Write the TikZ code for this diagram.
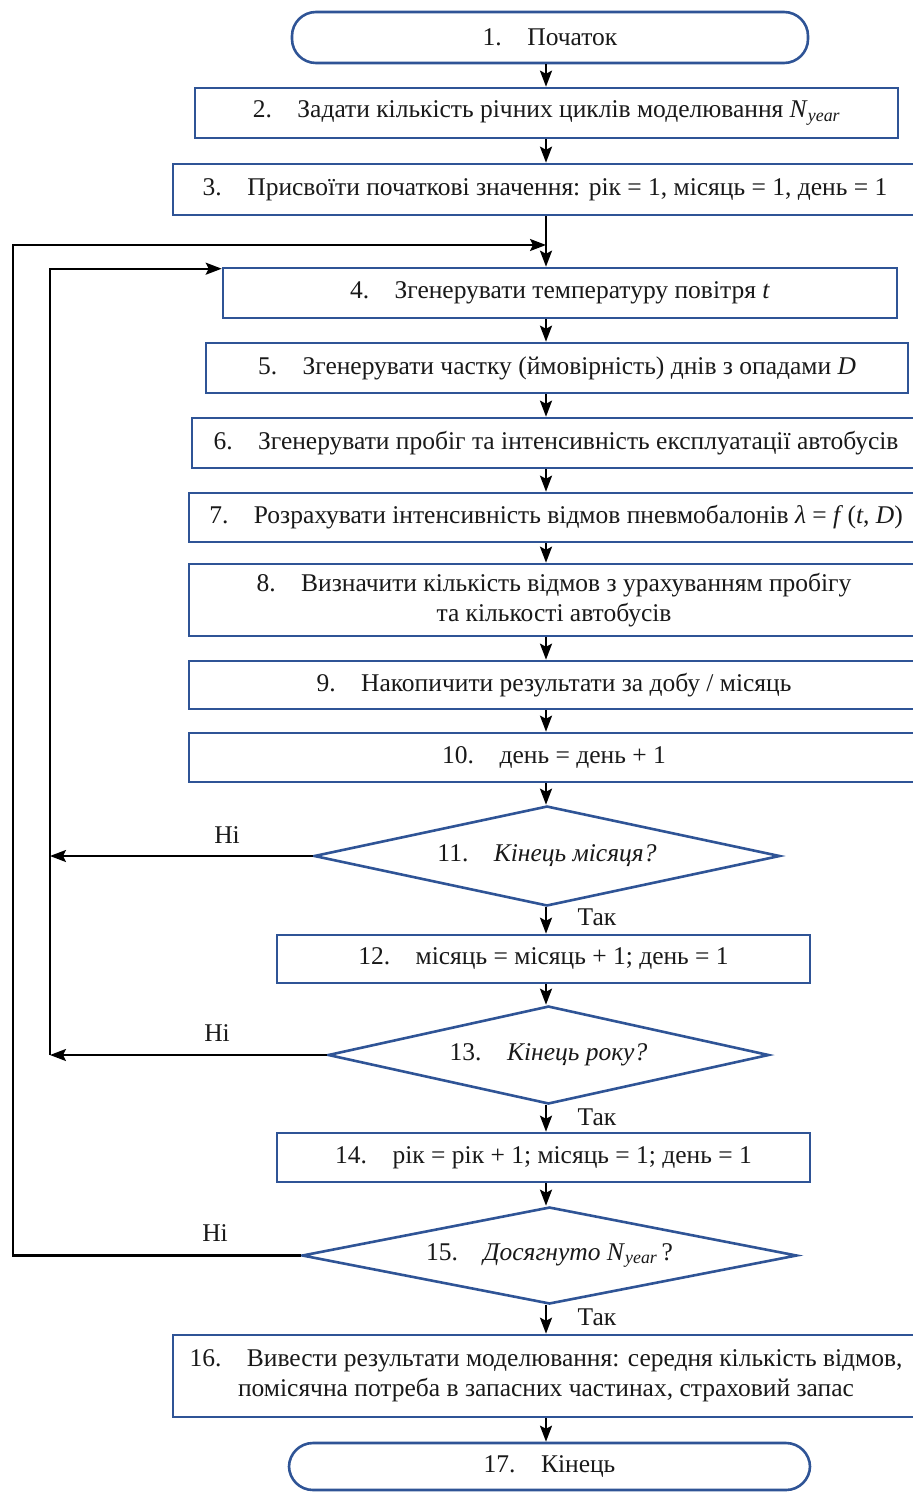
\documentclass[tikz,border=0pt]{standalone}
\usepackage{fontspec}
\setmainfont{Liberation Serif}
\usetikzlibrary{shapes.geometric,arrows.meta,calc}
\definecolor{bordblue}{RGB}{47,84,150}
\definecolor{txt}{RGB}{25,25,25}
\newcommand{\nm}[1]{#1\hspace{1.0em}}
\newcommand{\Ny}{\textit{N}\textsubscript{\textit{year}}}
\begin{document}
\begin{tikzpicture}[x=1pt,y=-1pt,
  every node/.style={text=txt,font=\fontsize{25.5}{30.5}\selectfont},
  box/.style={draw=bordblue,line width=2.6pt,rectangle,inner sep=0pt,align=center},
  term/.style={draw=bordblue,line width=2.6pt,rectangle,rounded corners=24pt,inner sep=0pt},
  dec/.style={draw=bordblue,line width=2.6pt,diamond,inner sep=0pt},
  arr/.style={draw=black,line width=2.1pt,-{Stealth[length=16pt,width=12pt,inset=3pt]}},
  lab/.style={inner sep=0pt}]
\useasboundingbox[fill=white] (0,0) rectangle (912,1495);
\coordinate (X) at (546,0);

\node[term,minimum width=516,minimum height=51] (t1) at (550,37.5) {\nm{1.}Початок};
\node[box,minimum width=703,minimum height=50] (b2) at (546.5,113) {\nm{2.}Задати кількість річних циклів моделювання \Ny};
\node[box,minimum width=744,minimum height=51] (b3) at (545,189.5) {\nm{3.}Присвоїти початкові значення: рік = 1, місяць = 1, день = 1};
\node[box,minimum width=674,minimum height=50] (b4) at (560,293) {\nm{4.}Згенерувати температуру повітря \textit{t}};
\node[box,minimum width=702,minimum height=50] (b5) at (557,368) {\nm{5.}Згенерувати частку (ймовірність) днів з опадами \textit{D}};
\node[box,minimum width=728,minimum height=50] (b6) at (556,443) {\nm{6.}Згенерувати пробіг та інтенсивність експлуатації автобусів};
\node[box,minimum width=734,minimum height=49] (b7) at (556,517.5) {\nm{7.}Розрахувати інтенсивність відмов пневмобалонів \textit{λ} = \textit{f}\,(\textit{t}, \textit{D})};
\node[box,minimum width=730,minimum height=72] (b8) at (554,600) {\nm{8.}Визначити кількість відмов з урахуванням пробігу\\та кількості автобусів};
\node[box,minimum width=730,minimum height=48] (b9) at (554,685) {\nm{9.}Накопичити результати за добу / місяць};
\node[box,minimum width=730,minimum height=49] (b10) at (554,757.5) {\nm{10.}день = день + 1};
\node[dec,minimum width=466,minimum height=100,aspect=4.66] (d11) at (547,856) {\nm{11.}\textit{Кінець місяця?}};
\node[box,minimum width=533,minimum height=48] (b12) at (543.5,959) {\nm{12.}місяць = місяць + 1; день = 1};
\node[dec,minimum width=441,minimum height=98,aspect=4.5] (d13) at (548.5,1055) {\nm{13.}\textit{Кінець року?}};
\node[box,minimum width=533,minimum height=49] (b14) at (543.5,1157.5) {\nm{14.}рік = рік + 1; місяць = 1; день = 1};
\node[dec,minimum width=495,minimum height=97,aspect=5.1] (d15) at (549.5,1255.5) {\nm{15.}\textit{Досягнуто} \Ny\,?};
\node[box,minimum width=746,minimum height=82] (b16) at (546,1376) {\nm{16.}Вивести результати моделювання: середня кількість відмов,\\помісячна потреба в запасних частинах, страховий запас};
\node[term,minimum width=521,minimum height=47] (t17) at (549.5,1466.5) {\nm{17.}Кінець};

% main flow
\draw[arr] (t1.south -| X) -- (b2.north -| X);
\draw[arr] (b2.south -| X) -- (b3.north -| X);
\draw[arr] (b3.south -| X) -- (b4.north -| X);
\draw[arr] (b4.south -| X) -- (b5.north -| X);
\draw[arr] (b5.south -| X) -- (b6.north -| X);
\draw[arr] (b6.south -| X) -- (b7.north -| X);
\draw[arr] (b7.south -| X) -- (b8.north -| X);
\draw[arr] (b8.south -| X) -- (b9.north -| X);
\draw[arr] (b9.south -| X) -- (b10.north -| X);
\draw[arr] (b10.south -| X) -- (d11.north -| X);
\draw[arr] (d11.south -| X) -- (b12.north -| X);
\draw[arr] (b12.south -| X) -- (d13.north -| X);
\draw[arr] (d13.south -| X) -- (b14.north -| X);
\draw[arr] (b14.south -| X) -- (d15.north -| X);
\draw[arr] (d15.south -| X) -- (b16.north -| X);
\draw[arr] (b16.south -| X) -- (t17.north -| X);

% loops
\coordinate (L1) at (50,0);
\coordinate (L2) at (13,0);
\coordinate (J) at (546,245);
\coordinate (B4in) at ($(b4.north west)+(0,2)$);
\draw[arr] (d11.west) -- (d11.west -| L1);
\draw[arr] (d13.west) -- (d13.west -| L1);
\draw[arr] (d13.west -| L1) -- (B4in -| L1) -- (B4in);
\draw[arr] (d15.west) -- (d15.west -| L2) -- (J -| L2) -- (J);

% labels
\node[lab] (n11) at (227,835) {Ні};
\node[lab] (n13) at (217,1033) {Ні};
\node[lab] (n15) at (215,1233) {Ні};
\node[lab] (y11) at (597,917) {Так};
\node[lab] (y13) at (597,1117) {Так};
\node[lab] (y15) at (597,1317) {Так};
\end{tikzpicture}
\end{document}
